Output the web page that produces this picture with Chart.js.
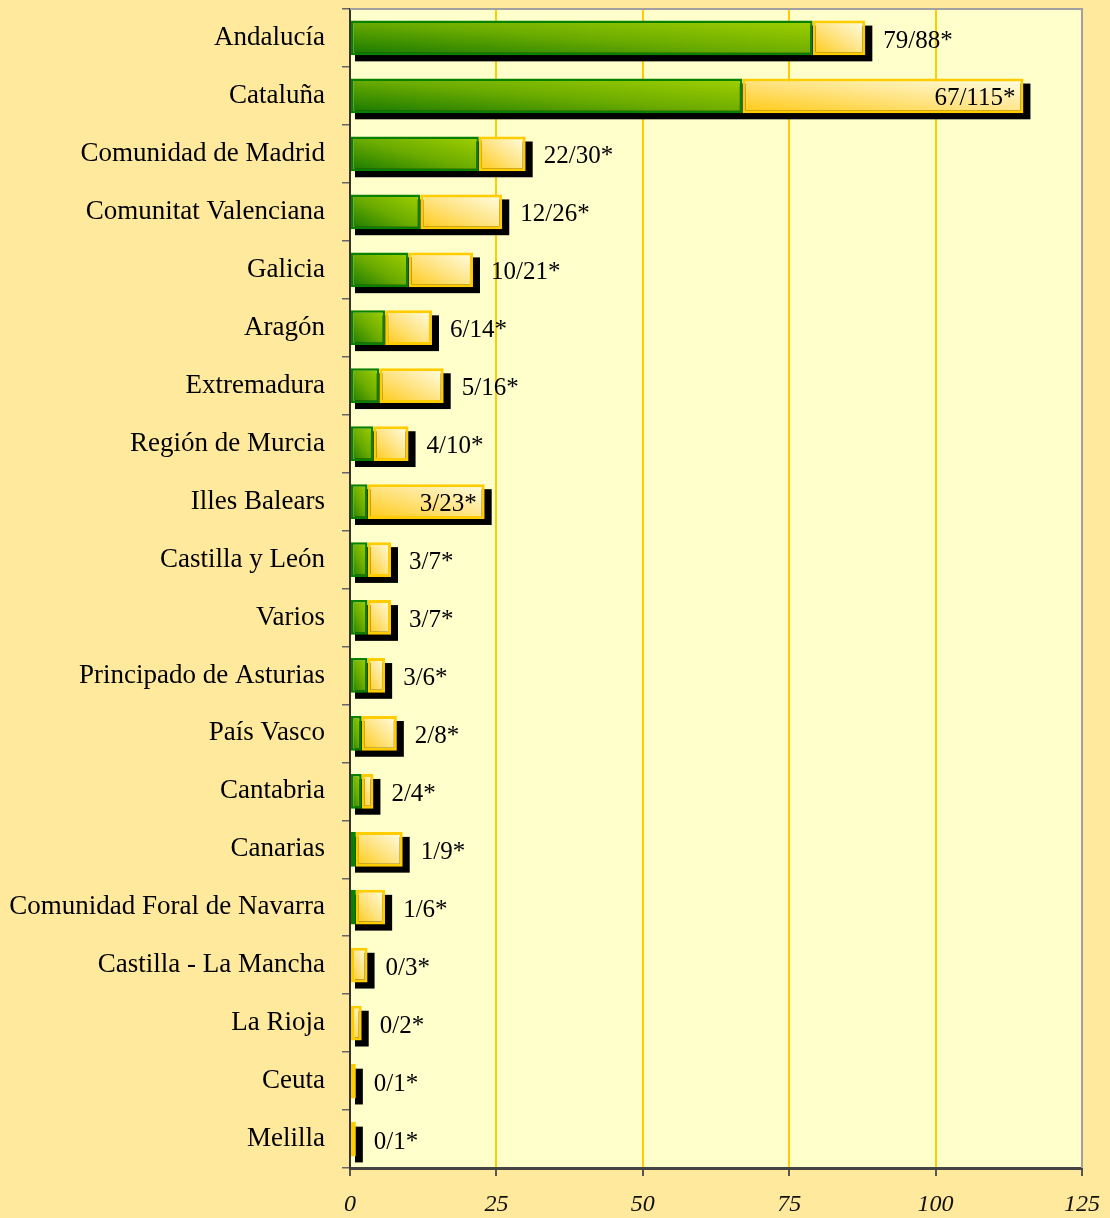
<!DOCTYPE html>
<html>
<head>
<meta charset="utf-8">
<script src="https://cdn.jsdelivr.net/npm/chart.js@4.4.1/dist/chart.umd.min.js"></script>
<style>
  html, body { margin: 0; padding: 0; background: #FFE99D; }
  canvas { display: block; }
</style>
</head>
<body>
<canvas id="grafico" width="1110" height="1218"></canvas>
<script>
// Datos del gráfico
const comunidades = [
    "Andalucía", "Cataluña", "Comunidad de Madrid", "Comunitat Valenciana", "Galicia",
    "Aragón", "Extremadura", "Región de Murcia", "Illes Balears", "Castilla y León",
    "Varios", "Principado de Asturias", "País Vasco", "Cantabria", "Canarias",
    "Comunidad Foral de Navarra", "Castilla - La Mancha", "La Rioja", "Ceuta", "Melilla"
];
const primeros = [79, 67, 22, 12, 10, 6, 5, 4, 3, 3, 3, 3, 2, 2, 1, 1, 0, 0, 0, 0];
const totales = [88, 115, 30, 26, 21, 14, 16, 10, 23, 7, 7, 6, 8, 4, 9, 6, 3, 2, 1, 1];
const ticksX = [0, 25, 50, 75, 100, 125];

const FUENTE = "'Liberation Serif', 'Times New Roman', serif";
const GROSOR = 0.6;

// Rectángulo de una barra a partir de las escalas
function rectBarra(chart, index, desde, hasta) {
    const sx = chart.scales.x, sy = chart.scales.y;
    const banda = Math.abs(sy.getPixelForValue(1) - sy.getPixelForValue(0));
    const yc = sy.getPixelForValue(index);
    const h = banda * GROSOR;
    return { x0: sx.getPixelForValue(desde), x1: sx.getPixelForValue(hasta), y0: yc - h / 2, y1: yc + h / 2 };
}

// Degradado diagonal "estilo Excel": de la esquina inferior izquierda a la superior derecha
function degradado(ctx, r, colores) {
    const w = Math.max(r.x1 - r.x0, 1), h = Math.max(r.y1 - r.y0, 1);
    const k = 2 / (1 / (w * w) + 1 / (h * h));
    const g = ctx.createLinearGradient(r.x0, r.y1, r.x0 + k / w, r.y1 - k / h);
    g.addColorStop(0, colores[0]);
    g.addColorStop(0.5, colores[1]);
    g.addColorStop(1, colores[2]);
    return g;
}

function rellenoVerde(context) {
    const chart = context.chart;
    if (!chart.chartArea || context.type !== "data") return "#6AAA00";
    const i = context.dataIndex;
    const r = rectBarra(chart, i, 0, primeros[i]);
    return degradado(chart.ctx, r, ["#167800", "#6CAC00", "#A0D000"]);
}

function rellenoAmarillo(context) {
    const chart = context.chart;
    if (!chart.chartArea || context.type !== "data") return "#FFE680";
    const i = context.dataIndex;
    const r = rectBarra(chart, i, primeros[i], totales[i]);
    return degradado(chart.ctx, r, ["#FFC912", "#FFE485", "#FFFFE8"]);
}

// Fondo del área de trazado y marco gris
const fondoPlugin = {
    id: "fondo",
    beforeDraw(chart) {
        const { ctx, chartArea: a } = chart;
        ctx.save();
        ctx.fillStyle = "#FFFFCC";
        ctx.fillRect(a.left, a.top, a.right - a.left, a.bottom - a.top);
        ctx.restore();
    },
    afterDraw(chart) {
        const { ctx, chartArea: a } = chart;
        ctx.save();
        ctx.strokeStyle = "#A0A0A0";
        ctx.lineWidth = 2;
        ctx.beginPath();
        ctx.moveTo(a.left, a.top);
        ctx.lineTo(a.right, a.top);
        ctx.lineTo(a.right, a.bottom);
        ctx.stroke();
        ctx.restore();
    }
};

// Sombra negra detrás de cada barra completa
const sombraPlugin = {
    id: "sombra",
    beforeDatasetsDraw(chart) {
        const ctx = chart.ctx;
        const meta = chart.getDatasetMeta(1);
        const cero = chart.scales.x.getPixelForValue(0);
        ctx.save();
        ctx.fillStyle = "#000000";
        meta.data.forEach(function (bar) {
            const p = bar.getProps(["x", "y", "height"], true);
            ctx.fillRect(cero + 5, p.y - p.height / 2 + 5, Math.max(p.x - cero, 1) + 2, p.height + 1);
        });
        ctx.restore();
    }
};

// Etiquetas "primeros/totales*"
const etiquetasPlugin = {
    id: "etiquetas",
    afterDatasetsDraw(chart) {
        const ctx = chart.ctx;
        const meta = chart.getDatasetMeta(1);
        ctx.save();
        ctx.font = "25px " + FUENTE;
        ctx.fillStyle = "#000000";
        ctx.textBaseline = "middle";
        meta.data.forEach(function (bar, i) {
            const texto = primeros[i] + "/" + totales[i] + "*";
            const dentro = totales[i] - primeros[i] >= 20;
            if (dentro) {
                ctx.textAlign = "right";
                ctx.fillText(texto, bar.x - 8, bar.y + 3);
            } else {
                ctx.textAlign = "left";
                ctx.fillText(texto, bar.x + 18, bar.y + 3);
            }
        });
        ctx.restore();
    }
};

new Chart(document.getElementById("grafico").getContext("2d"), {
    type: "bar",
    data: {
        labels: comunidades,
        datasets: [
            {
                label: "Primeros",
                data: primeros,
                grouped: false,
                backgroundColor: rellenoVerde,
                borderColor: "#0A8000",
                borderWidth: 2.5,
                borderSkipped: false,
                categoryPercentage: 1,
                barPercentage: GROSOR
            },
            {
                label: "Totales",
                data: primeros.map(function (p, i) { return [p, totales[i]]; }),
                grouped: false,
                backgroundColor: rellenoAmarillo,
                borderColor: "#FFCC00",
                borderWidth: 3,
                borderSkipped: false,
                categoryPercentage: 1,
                barPercentage: GROSOR
            }
        ]
    },
    options: {
        indexAxis: "y",
        responsive: false,
        animation: false,
        layout: { padding: { top: 9, right: 28, left: 0, bottom: 0 } },
        plugins: {
            legend: { display: false },
            tooltip: { enabled: false }
        },
        scales: {
            x: {
                min: 0,
                max: 125,
                afterBuildTicks(scale) {
                    scale.ticks = ticksX.map(function (v) { return { value: v }; });
                },
                afterFit(scale) {
                    scale.height = 50;
                    scale.paddingLeft = 0;
                    scale.paddingRight = 0;
                },
                grid: {
                    color(c) {
                        if (c.tick && c.tick.value === 0) return "rgba(0,0,0,0)";
                        if (c.tick && c.tick.value === 125) return "#A0A0A0";
                        return "#FFCC00";
                    },
                    lineWidth: 2,
                    tickColor: "#555555",
                    tickLength: 8
                },
                border: { color: "#444444", width: 3 },
                ticks: {
                    color: "#111111",
                    padding: 14,
                    font: { family: FUENTE, size: 24, style: "italic" }
                }
            },
            y: {
                afterFit(scale) {
                    scale.width = 350;
                    scale.paddingTop = 0;
                    scale.paddingBottom = 0;
                },
                grid: {
                    drawOnChartArea: false,
                    tickColor: "#666666",
                    tickLength: 8,
                    lineWidth: 1.5
                },
                border: { color: "#333333", width: 2 },
                ticks: {
                    color: "#000000",
                    padding: 17,
                    font: { family: FUENTE, size: 27 }
                }
            }
        }
    },
    plugins: [fondoPlugin, sombraPlugin, etiquetasPlugin]
});
</script>
</body>
</html>
